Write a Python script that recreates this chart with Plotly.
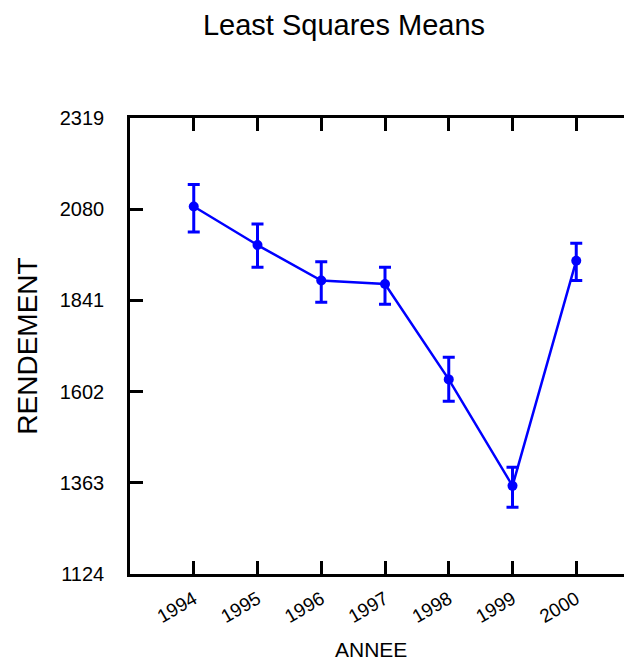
import plotly.graph_objects as go

# Least squares means of RENDEMENT by ANNEE
annee = [1994, 1995, 1996, 1997, 1998, 1999, 2000]
rendement = [2087, 1986, 1893, 1884, 1634, 1355, 1945]
err_plus = [58, 55, 49, 44, 58, 49, 46]
err_minus = [67, 58, 57, 53, 57, 56, 52]

y_ticks = [1124, 1363, 1602, 1841, 2080, 2319]
x_ticks = [1994, 1995, 1996, 1997, 1998, 1999, 2000]

sans = "Liberation Sans, Arial"
blue = "#0000FF"

fig = go.Figure()
fig.add_trace(go.Scatter(
    x=annee, y=rendement,
    mode="lines+markers",
    line=dict(color=blue, width=2.5),
    marker=dict(color=blue, size=10),
    error_y=dict(type="data", symmetric=False, array=err_plus, arrayminus=err_minus,
                 color=blue, thickness=3, width=6),
    showlegend=False,
))

# page has an 8px body margin; the right frame edge sits just past the window like the original
fig.update_layout(
    width=632, height=653,
    margin=dict(l=122, r=0, t=110, b=87),
    plot_bgcolor="white", paper_bgcolor="white",
    font=dict(family=sans, size=20, color="black"),
    title=dict(text="Least Squares Means", x=336 / 632, xref="container", xanchor="center",
               y=1 - 17 / 653, yref="container", yanchor="middle",
               font=dict(family=sans, size=29, color="black")),
    xaxis=dict(
        range=[1993, 2001], tickvals=x_ticks, ticktext=[str(v) for v in x_ticks],
        tickangle=-30, ticks="inside", ticklen=13, tickwidth=2.5, tickcolor="black",
        showline=True, linewidth=2.5, linecolor="black", mirror="ticks",
        showgrid=False, zeroline=False, ticklabelstandoff=4, automargin=False,
        tickfont=dict(family=sans, size=19),
    ),
    yaxis=dict(
        range=[1124, 2319], tickvals=y_ticks, ticktext=[str(v) for v in y_ticks],
        ticks="inside", ticklen=13, tickwidth=2.5, tickcolor="black",
        showline=True, linewidth=2.5, linecolor="black", mirror="ticks",
        showgrid=False, zeroline=False, ticklabelstandoff=19, automargin=False,
        title=dict(text="RENDEMENT", font=dict(family=sans, size=28), standoff=14),
        tickfont=dict(family=sans, size=20),
    ),
    annotations=[dict(text="ANNEE", xref="paper", yref="paper", x=241 / 510, y=-75 / 456,
                      xanchor="center", yanchor="middle", showarrow=False,
                      font=dict(family=sans, size=21, color="black"))],
)

fig.write_html("out.html")
